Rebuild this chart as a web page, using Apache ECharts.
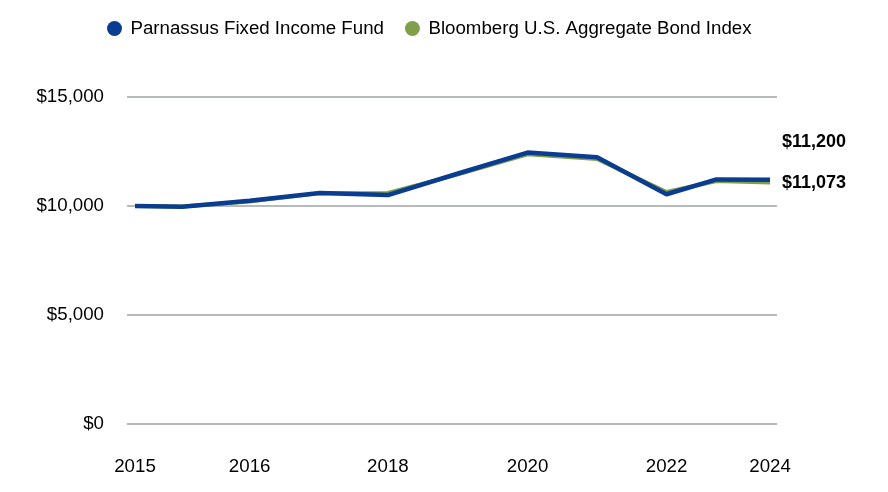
<!DOCTYPE html>
<html>
<head>
<meta charset="utf-8">
<script src="https://cdn.jsdelivr.net/npm/echarts@6/dist/echarts.min.js"></script>
<style>
  html, body { margin: 0; padding: 0; background: #ffffff; }
  #chart { width: 888px; height: 492px; }
</style>
</head>
<body>
<div id="chart"></div>
<script>
// Period positions (decimal years)
const periods = [2015.0, 2015.68, 2016.65, 2017.66, 2018.64, 2019.65, 2020.65, 2021.65, 2022.65, 2023.37, 2024.14];
const fundValues = [10000, 9970, 10240, 10600, 10500, 11490, 12450, 12240, 10540, 11220, 11200];
const indexValues = [10000, 9980, 10210, 10590, 10600, 11450, 12370, 12160, 10640, 11150, 11073];
const tickPeriods = [2015.0, 2016.65, 2018.64, 2020.65, 2022.65, 2024.14];
const tickLabels = ['2015', '2016', '2018', '2020', '2022', '2024'];
const seriesNames = ['Parnassus Fixed Income Fund', 'Bloomberg U.S. Aggregate Bond Index'];

const FONT = "'Liberation Sans', Arial, Helvetica, sans-serif";
const BLUE = '#0a3d91';
const GREEN = '#7f9f4a';

function fmtMoney(v) {
  return '$' + Math.round(v).toLocaleString('en-US');
}

function pairs(vals) {
  return vals.map((v, i) => [periods[i], v]);
}

function endLabel(vals, offsetY) {
  return {
    show: true,
    position: 'right',
    distance: 12,
    offset: [0, offsetY],
    formatter: () => fmtMoney(vals[vals.length - 1]),
    fontFamily: FONT,
    fontSize: 18,
    fontWeight: 'bold',
    color: '#000'
  };
}

const chart = echarts.init(document.getElementById('chart'), null, { renderer: 'canvas' });
chart.setOption({
  animation: false,
  backgroundColor: '#ffffff',
  legend: {
    data: seriesNames,
    left: 102,
    top: 14,
    icon: 'circle',
    itemWidth: 22,
    itemHeight: 15,
    itemGap: 21,
    textStyle: { fontFamily: FONT, fontSize: 18.7, color: '#000' }
  },
  grid: { left: 127, right: 111, top: 97, bottom: 68, containLabel: false },
  xAxis: {
    type: 'value',
    min: 2014.885,
    max: 2024.24,
    axisLine: { show: false },
    axisTick: { show: false },
    splitLine: { show: false },
    axisLabel: {
      customValues: tickPeriods,
      margin: 33,
      fontFamily: FONT,
      fontSize: 18.7,
      color: '#000',
      formatter: (val) => {
        let best = 0, bd = Infinity;
        tickPeriods.forEach((t, i) => { const d = Math.abs(t - val); if (d < bd) { bd = d; best = i; } });
        return tickLabels[best];
      }
    }
  },
  yAxis: {
    type: 'value',
    min: 0,
    max: 15000,
    interval: 5000,
    axisLine: { show: false },
    axisTick: { show: false },
    splitLine: { lineStyle: { color: '#9fa3a7', width: 1.5 } },
    axisLabel: {
      margin: 23,
      fontFamily: FONT,
      fontSize: 18.7,
      color: '#000',
      formatter: (v) => fmtMoney(v)
    }
  },
  series: [
    {
      name: seriesNames[1],
      type: 'line',
      data: pairs(indexValues),
      showSymbol: false,
      color: GREEN,
      lineStyle: { color: GREEN, width: 4 },
      endLabel: endLabel(indexValues, 0),
      z: 2
    },
    {
      name: seriesNames[0],
      type: 'line',
      data: pairs(fundValues),
      showSymbol: false,
      color: BLUE,
      lineStyle: { color: BLUE, width: 4.5 },
      endLabel: endLabel(fundValues, -38),
      z: 3
    }
  ]
});
</script>
</body>
</html>
